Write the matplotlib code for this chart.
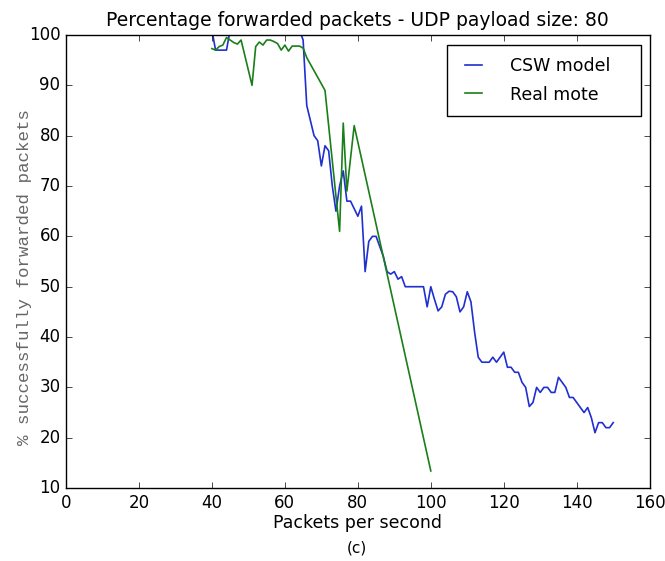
import numpy as np
import matplotlib
matplotlib.use("Agg")
import matplotlib.pyplot as plt

plt.style.use('classic')

# CSW model (one point per packet rate, 40..150)
csw_x = list(range(40, 151))
csw_y = [101, 97, 97, 97, 97, 101, 101, 101, 101, 101,   # 40-49
         101, 101, 101, 101, 101, 101, 101, 101, 101, 101,  # 50-59
         101, 101, 101, 101, 101, 99, 86, 83, 80, 79,       # 60-69
         74, 78, 77, 70, 65, 70, 73, 67, 67, 65.5,          # 70-79
         64, 66, 53, 59, 60, 60, 58, 56, 53, 52.5,          # 80-89
         53, 51.5, 52, 50, 50, 50, 50, 50, 50, 46,          # 90-99
         50, 47.5, 45.2, 46, 48.5, 49.1, 49, 48, 45, 46,    # 100-109
         49, 47, 41, 36, 35, 35, 35, 36, 35, 36,            # 110-119
         37, 34, 34, 33, 33, 31, 30, 26.2, 27, 30,          # 120-129
         29, 30, 30, 29, 29, 32, 31, 30, 28, 28,            # 130-139
         27, 26, 25, 26, 24, 21, 23, 23, 22, 22,            # 140-149
         23]                                                # 150

# Real mote measurements
mote_x = [40, 41, 42, 43, 44, 45, 46, 47, 48, 51, 52, 53, 54, 55, 56, 57,
          58, 59, 60, 61, 62, 63, 64, 65, 66, 71, 75, 76, 77, 79, 100]
mote_y = [97.3, 97, 97.7, 98, 99.5, 99, 98.5, 98.2, 99, 90, 97.7, 98.6,
          98, 99, 99, 98.7, 98.3, 97, 98, 96.8, 97.8, 97.8, 97.8, 97.4,
          95.5, 89, 61, 82.5, 69, 82, 13.4]

fig = plt.figure(figsize=(6.65, 5.61), dpi=100, facecolor='white')
ax = fig.add_axes([0.0992, 0.130, 0.8778, 0.8076])

ax.plot(csw_x, csw_y, color='#1f2fd0', lw=1.2, label='CSW model')
ax.plot(mote_x, mote_y, color='#1a7f1a', lw=1.2, label='Real mote')

ax.set_xlim(0, 160)
ax.set_ylim(10, 100)
ax.set_xticks(np.arange(0, 161, 20))
ax.set_yticks(np.arange(10, 101, 10))
ax.tick_params(labelsize=12)

ax.set_title('Percentage forwarded packets - UDP payload size: 80', fontsize=13.5, y=1.005)
ax.set_xlabel('Packets per second', fontsize=12.5, labelpad=2)
ax.set_ylabel('% successfully forwarded packets', family='Liberation Mono',
              fontsize=12.6, color='#666666')
ax.yaxis.set_label_coords(-0.058, 0.465)

leg = ax.legend(loc='upper left', bbox_to_anchor=(0.6535, 0.828, 0.331, 0.15),
                mode='expand', borderaxespad=0, fontsize=12.5, handlelength=1.6,
                borderpad=0.7, labelspacing=0.6, handletextpad=1.3)
leg.get_frame().set_linewidth(1.0)

fig.text(0.537, 0.023, '(c)', ha='center', va='center', fontsize=11)

fig.savefig('out.png', dpi=100, facecolor='white')
